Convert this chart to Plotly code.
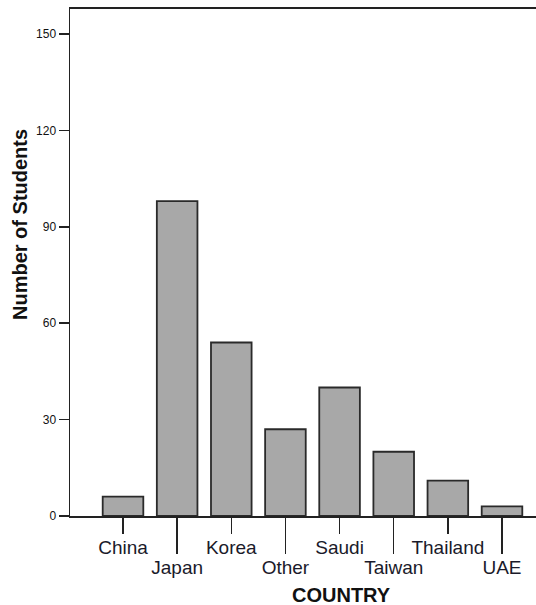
import plotly.graph_objects as go

countries = ["China", "Japan", "Korea", "Other", "Saudi", "Taiwan", "Thailand", "UAE"]
students = [6, 98, 54, 27, 40, 20, 11, 3]
y_ticks = [0, 30, 60, 90, 120, 150]

idx = list(range(len(countries)))
row1 = idx[0::2]
row2 = idx[1::2]

W, H = 536, 605
L, T, B = 70, 9, 89
PW, PH = W - L, H - T - B

fig = go.Figure()
fig.add_trace(go.Bar(
    x=idx, y=students, width=0.75,
    marker=dict(color="#a8a8a8", line=dict(color="#2a2a2a", width=1.8)),
    showlegend=False, hoverinfo="skip",
))
fig.add_trace(go.Scatter(x=[idx[0]], y=[0], xaxis="x2", mode="markers",
                         marker=dict(opacity=0), showlegend=False, hoverinfo="skip"))

xrange = [-0.979, 7.628]
fig.update_layout(
    width=W, height=H,
    margin=dict(l=L, r=0, t=T, b=B),
    paper_bgcolor="white", plot_bgcolor="white",
    font=dict(family="Liberation Sans, Arial, sans-serif", color="#1a1a2a"),
    xaxis=dict(
        range=xrange, tickmode="array",
        tickvals=row1, ticktext=[countries[i] for i in row1],
        ticks="outside", ticklen=16, tickwidth=1.5, tickcolor="#222",
        showline=True, linecolor="#222", linewidth=1.8, mirror=True,
        showgrid=False, zeroline=False,
        tickfont=dict(size=19), ticklabelstandoff=-3,
    ),
    xaxis2=dict(
        range=xrange, overlaying="x", side="bottom", anchor="y",
        tickmode="array",
        tickvals=row2, ticktext=[countries[i] for i in row2],
        ticks="outside", ticklen=37, tickwidth=1.5, tickcolor="#222",
        showline=False, showgrid=False, zeroline=False,
        tickfont=dict(size=19), ticklabelstandoff=-3,
    ),
    yaxis=dict(
        range=[0, 157.8], tickmode="array", tickvals=y_ticks,
        ticks="outside", ticklen=10, tickwidth=1.5, tickcolor="#222",
        showline=True, linecolor="#222", linewidth=1.5,
        showgrid=False, zeroline=False,
        tickfont=dict(size=12, color="#111"),
    ),
    annotations=[
        dict(text="<b>COUNTRY</b>", xref="paper", yref="paper",
             x=(341 - L) / PW, y=-(595 - (H - B)) / PH, xanchor="center", yanchor="middle",
             showarrow=False, font=dict(size=20, color="#111")),
        dict(text="<b>Number of Students</b>", xref="paper", yref="paper",
             x=(20 - L) / PW, y=((H - B) - 225) / PH, xanchor="center", yanchor="middle",
             textangle=-90, showarrow=False, font=dict(size=20, color="#111")),
    ],
)

fig.write_html("out.html", config={"displayModeBar": False, "staticPlot": True},
               post_script="document.body.style.margin='0';document.body.style.overflow='hidden';")
